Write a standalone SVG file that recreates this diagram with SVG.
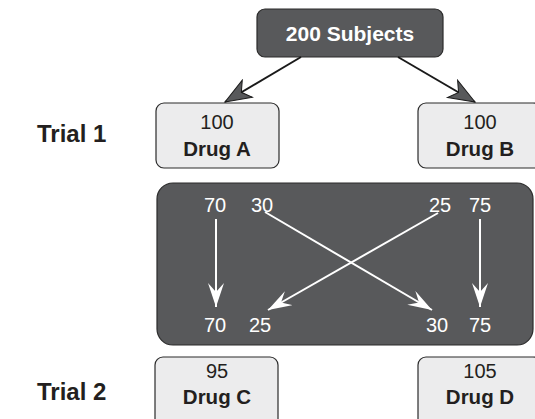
<svg xmlns="http://www.w3.org/2000/svg" width="535" height="419" viewBox="0 0 535 419">
<defs>
<style>
.lt{fill:#ececed;stroke:#2b2b2b;stroke-width:1.2}
.dk{fill:#58595b;stroke:#2b2b2b;stroke-width:1.2}
text{font-family:"Liberation Sans",Arial,sans-serif;text-anchor:middle}
.n{font-size:20px;fill:#231f20}
.b{font-size:20.5px;font-weight:bold;fill:#231f20}
.w{font-size:20px;fill:#fff}
.lab{font-size:24px;font-weight:bold;fill:#231f20;text-anchor:start}
</style>
<marker id="ah" markerUnits="userSpaceOnUse" markerWidth="30" markerHeight="24" refX="27" refY="11" orient="auto" viewBox="0 0 30 24">
<path d="M27,11 L1,1 L8,11 L1,21 Z" fill="#58595b" stroke="#1a1a1a" stroke-width="1"/>
</marker>
<marker id="wh" markerUnits="userSpaceOnUse" markerWidth="26" markerHeight="18" refX="24" refY="8" orient="auto" viewBox="0 0 26 18">
<path d="M24,8 L0,0 L9,8 L0,16 Z" fill="#fff"/>
</marker>
</defs>
<g id="subjects">
<rect class="dk" x="257" y="9" width="186" height="48" rx="8"/>
<text x="350" y="41" style="font-size:21px;font-weight:bold;fill:#fff">200 Subjects</text>
</g>
<g id="trial1"><text class="lab" x="37" y="142">Trial 1</text></g>
<g id="trial2"><text class="lab" x="37" y="400">Trial 2</text></g>
<g id="drugA">
<rect class="lt" x="156" y="103" width="123" height="65" rx="8"/>
<text class="n" x="217" y="129">100</text>
<text class="b" x="217" y="156">Drug A</text>
</g>
<g id="drugB">
<rect class="lt" x="418" y="103" width="123" height="65" rx="8"/>
<text class="n" x="480" y="129">100</text>
<text class="b" x="480" y="156">Drug B</text>
</g>
<g id="switch">
<rect class="dk" x="157" y="183" width="376" height="162" rx="16"/>
<text class="w" x="215" y="212">70</text>
<text class="w" x="262" y="212">30</text>
<text class="w" x="440" y="212">25</text>
<text class="w" x="480" y="212">75</text>
<text class="w" x="215" y="332">70</text>
<text class="w" x="260" y="332">25</text>
<text class="w" x="437" y="332">30</text>
<text class="w" x="480" y="332">75</text>
</g>
<g id="drugC">
<rect class="lt" x="155" y="357" width="123" height="70" rx="8"/>
<text class="n" x="217" y="378">95</text>
<text class="b" x="217" y="404">Drug C</text>
</g>
<g id="drugD">
<rect class="lt" x="418" y="357" width="123" height="70" rx="8"/>
<text class="n" x="480" y="378">105</text>
<text class="b" x="480" y="404">Drug D</text>
</g>
<g id="connectors" stroke-width="2" fill="none">
<line x1="301" y1="57" x2="225" y2="102" stroke="#1a1a1a" marker-end="url(#ah)"/>
<line x1="398" y1="57" x2="475" y2="102" stroke="#1a1a1a" marker-end="url(#ah)"/>
<line x1="216" y1="219" x2="216" y2="307" stroke="#fff" marker-end="url(#wh)"/>
<line x1="480" y1="219" x2="480" y2="307" stroke="#fff" marker-end="url(#wh)"/>
<line x1="265" y1="212" x2="432" y2="310" stroke="#fff" marker-end="url(#wh)"/>
<line x1="438" y1="213" x2="268" y2="310" stroke="#fff" marker-end="url(#wh)"/>
</g>
</svg>
